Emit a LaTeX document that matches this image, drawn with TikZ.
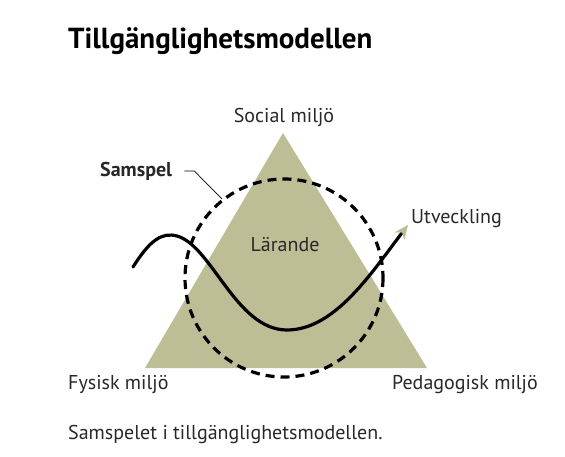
\documentclass[tikz,border=0pt]{standalone}
\usepackage{fontspec}
\setmainfont{PT Sans}
\usetikzlibrary{arrows.meta}
\definecolor{khaki}{RGB}{189,189,150}
\definecolor{textgrey}{RGB}{40,40,40}
\begin{document}
\begin{tikzpicture}[x=1pt, y=-1pt, font=\fontsize{20}{24}\selectfont, text=textgrey,
    lbl/.style={inner sep=0pt},
    wave/.style={line width=3.2pt, line cap=round},
    ring/.style={line width=3.2pt, dash pattern=on 9pt off 6pt}]
    \useasboundingbox (0,0) rectangle (565,457);
    \fill[khaki] (283,133) -- (427,368) -- (145,368) -- cycle;
    \draw[ring] (284,278) circle (99);
    \node[lbl, anchor=west, text=black, font=\fontsize{29}{34}\selectfont\bfseries]
    (title) at (68,41) {Tillgänglighetsmodellen};
    \node[lbl] (social) at (284,118) {Social miljö};
    \node[lbl] (larande) at (285,245) {Lärande};
    \node[lbl, anchor=west] (fysisk) at (68,385) {Fysisk miljö};
    \node[lbl, anchor=east] (ped) at (538,385) {Pedagogisk miljö};
    \node[lbl, anchor=west] (utv) at (411,219) {Utveckling};
    \node[lbl, anchor=west, font=\fontsize{20}{24}\selectfont\bfseries]
    (samspel) at (100,171) {Samspel};
    \node[lbl, anchor=west] (caption) at (68,434) {Samspelet i tillgänglighetsmodellen.};
    \coordinate (ringpt) at (222,199);
    \coordinate (wstart) at (133,267);
    \coordinate (wend) at (408,225);
    \draw[line width=0.7pt] ([xshift=12pt]samspel.east) -- ++(10,0) -- (ringpt);
    \draw[wave, -{Stealth[length=14pt, width=12pt, fill=khaki, color=khaki, line width=0.4pt]}]
    (wstart) .. controls (150,240) and (162,232) .. (177,236)
    .. controls (212,246) and (236,330) .. (287,330)
    .. controls (335,330) and (372,272) .. (wend);
\end{tikzpicture}
\end{document}
